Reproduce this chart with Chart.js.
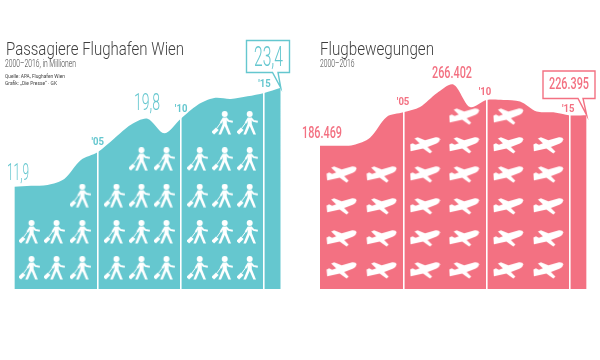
<!DOCTYPE html>
<html>
<head>
<meta charset="utf-8">
<script src="https://cdn.jsdelivr.net/npm/chart.js@4"></script>
<style>
html,body{margin:0;padding:0;background:#fff;}
canvas{position:absolute;top:0;}
#c1{left:0;}
#c2{left:300px;}
</style>
</head>
<body>
<canvas id="c1" width="300" height="360"></canvas>
<canvas id="c2" width="300" height="360"></canvas>
<script>
// ---- data ----
const years = [2000,2001,2002,2003,2004,2005,2006,2007,2008,2009,2010,2011,2012,2013,2014,2015,2016];
const passengers = [11.9,12.0,12.1,12.8,15.0,15.9,17.5,19.1,19.8,18.1,19.8,21.4,22.2,22.1,22.4,22.8,23.4];
const flights = [186469,186500,187500,197000,224000,230000,237000,255000,266402,237000,246000,246000,244000,231000,230000,226000,226395];
const tickYears = [2005,2010,2015];
const tickLabels = ["'05","'10","'15"];
const personCols = [2000.9,2002.4,2003.95,2006,2007.5,2009,2011,2012.5,2014];
const personCounts = [2,2,3,3,4,4,4,5,5];
const personRows = [2.44,6.63,10.85,15.1,19.3];
const planeCols = [2001.3,2003.7,2006.3,2008.65,2011.3,2013.7];
const planeCounts = [4,4,5,6,6,5];
const planeRows = [24700,66400,108000,149500,187500,225000];
const passengerLabels = ["11,9","19,8","23,4"];
const flightLabels = ["186.469","266.402","226.395"];

// ---- colours ----
const TEAL = '#65c7cf', PINK = '#f37182', GREY = '#3f3f3f';

function iconPoints(cols, counts, rows){
  const out = [];
  cols.forEach((x,i)=>{ for(let r=0;r<counts[i];r++) out.push({x, y:rows[r]}); });
  return out;
}
function seriesPoints(vals){ return years.map((x,i)=>({x, y:vals[i]})); }

// ---- pictograms ----
function personIcon(){
  const c = document.createElement('canvas'); c.width = 21; c.height = 24;
  const g = c.getContext('2d');
  g.fillStyle = g.strokeStyle = '#fff'; g.lineCap = 'butt'; g.lineJoin = 'miter';
  g.beginPath(); g.arc(12.7,3,3,0,Math.PI*2); g.fill();
  g.beginPath();
  g.moveTo(10.6,6.5); g.lineTo(14.8,6.5); g.lineTo(14.8,13); g.lineTo(19,23.5); g.lineTo(16.4,23.5);
  g.lineTo(12.7,15); g.lineTo(9,23.5); g.lineTo(6.4,23.5); g.lineTo(10.6,13); g.closePath(); g.fill();
  g.lineWidth = 1.9;
  g.beginPath(); g.moveTo(14,7.2); g.lineTo(16.5,10); g.lineTo(20.8,10.8); g.stroke();
  g.beginPath(); g.moveTo(11.2,7.5); g.lineTo(8.5,12); g.stroke();
  g.lineWidth = 1;
  g.beginPath(); g.moveTo(8.5,12); g.lineTo(4.5,17.5); g.stroke();
  g.save(); g.translate(3,20); g.rotate(Math.PI/4); g.fillRect(-1.9,-3.2,3.8,6.4); g.restore();
  return c;
}
function planeIcon(){
  const c = document.createElement('canvas'); c.width = 31; c.height = 18;
  const g = c.getContext('2d');
  g.fillStyle = '#fff';
  g.beginPath();
  g.moveTo(0.5,8.5); g.lineTo(3,7.2); g.lineTo(6,8.7); g.lineTo(10,7.2); g.lineTo(5,2.5); g.lineTo(8,1.2);
  g.lineTo(15.5,4.2); g.lineTo(26,1.3); g.quadraticCurveTo(30,1,30.5,3.2); g.quadraticCurveTo(30,5.8,27,7.5);
  g.lineTo(18,11); g.lineTo(22.5,15.5); g.lineTo(20.5,17.5); g.lineTo(13.5,12.5); g.lineTo(1,15.2); g.closePath();
  g.fill();
  return c;
}

// ---- text helper: draws text squeezed to a given width ----
function fitText(ctx, text, x, base, font, color, width){
  ctx.save();
  ctx.font = font; ctx.fillStyle = color; ctx.textAlign = 'left'; ctx.textBaseline = 'alphabetic';
  const w = ctx.measureText(text).width;
  ctx.translate(x, base); ctx.scale(width/w, 1);
  ctx.fillText(text, 0, 0);
  ctx.restore();
}
function callout(ctx, box, tail, tip, color){
  ctx.save();
  ctx.fillStyle = '#fff'; ctx.strokeStyle = color; ctx.lineWidth = 1.4; ctx.lineJoin = 'miter';
  ctx.beginPath();
  ctx.moveTo(box[0],box[1]); ctx.lineTo(box[2],box[1]); ctx.lineTo(box[2],box[3]);
  ctx.lineTo(tail[1],box[3]); ctx.lineTo(tip[0],tip[1]); ctx.lineTo(tail[0],box[3]);
  ctx.lineTo(box[0],box[3]); ctx.closePath();
  ctx.fill(); ctx.stroke();
  ctx.restore();
}

const leftOverlay = {
  id:'leftOverlay',
  afterDraw(chart){
    const c = chart.ctx, X = chart.scales.x, Y = chart.scales.y;
    fitText(c,'Passagiere Flughafen Wien',6,55,'300 19px "Roboto"',GREY,178);
    fitText(c,'2000–2016, in Millionen',5,67,'300 10px "Roboto"',GREY,71);
    fitText(c,'Quelle: APA, Flughafen Wien',5,78,'400 6px "Roboto"',GREY,60);
    fitText(c,'Grafik: „Die Presse“ · GK',5,84.5,'400 6px "Roboto"',GREY,52);
    const tip = [X.getPixelForValue(2016), Y.getPixelForValue(passengers[16])];
    callout(c,[246.5,40.5,289.5,72.5],[272.5,278],tip,TEAL);
    fitText(c,passengerLabels[0],7,180,'300 24px "Roboto"',TEAL,22);
    fitText(c,passengerLabels[1],134,110,'300 24px "Roboto"',TEAL,26);
    fitText(c,passengerLabels[2],254,66,'300 27px "Roboto"',TEAL,29);
    tickYears.forEach((yr,i)=>{
      const v = passengers[years.indexOf(yr)];
      const px = X.getPixelForValue(yr), py = Y.getPixelForValue(v);
      fitText(c,tickLabels[i],px-6,py-[7,7,6][i],'700 10px "Roboto"',TEAL,12.5);
    });
  }
};
const rightOverlay = {
  id:'rightOverlay',
  afterDraw(chart){
    const c = chart.ctx, X = chart.scales.x, Y = chart.scales.y;
    fitText(c,'Flugbewegungen',20,55,'300 19px "Roboto"',GREY,114);
    fitText(c,'2000–2016',20,67,'300 10px "Roboto"',GREY,34.5);
    const tip = [X.getPixelForValue(2016), Y.getPixelForValue(flights[16])];
    callout(c,[243,71,295,98.5],[278,283],tip,PINK);
    fitText(c,flightLabels[0],2,137.5,'500 16px "Roboto"',PINK,40);
    fitText(c,flightLabels[1],132,78,'500 16px "Roboto"',PINK,40);
    fitText(c,flightLabels[2],249,89,'500 16px "Roboto"',PINK,40);
    tickYears.forEach((yr,i)=>{
      const v = flights[years.indexOf(yr)];
      const px = X.getPixelForValue(yr), py = Y.getPixelForValue(v);
      fitText(c,tickLabels[i],px-[6.5,8,8][i],py-[7,5,3][i],'700 10px "Roboto"',PINK,12.5);
    });
  }
};

function makeChart(id, vals, color, yMax, pad, icon, iconData, overlay){
  return new Chart(document.getElementById(id), {
    type:'line',
    data:{ datasets:[
      { data:iconData, showLine:false, order:0, pointStyle:icon, pointRadius:10, pointHoverRadius:10 },
      { data:seriesPoints(vals), order:1, fill:'origin', backgroundColor:color, borderColor:color, borderWidth:0,
        pointRadius:0, tension:0.3 }
    ]},
    options:{
      responsive:false, animation:false, devicePixelRatio:1,
      layout:{ padding:pad },
      plugins:{ legend:{display:false}, tooltip:{enabled:false}, title:{display:false} },
      events:[],
      scales:{
        x:{ type:'linear', min:2000, max:2016,
            afterBuildTicks(a){ a.ticks = tickYears.map(value=>({value})); },
            ticks:{display:false}, border:{display:false},
            grid:{ color:'#ffffff', lineWidth:1.6, drawTicks:false, z:1 } },
        y:{ display:false, min:0, max:yMax }
      }
    },
    plugins:[overlay]
  });
}
makeChart('c1', passengers, TEAL, 30, {left:14.3,right:19.2,top:31,bottom:71},
  personIcon(), iconPoints(personCols,personCounts,personRows), leftOverlay);
makeChart('c2', flights, PINK, 350000, {left:20,right:13.3,top:20.2,bottom:71},
  planeIcon(), iconPoints(planeCols,planeCounts,planeRows), rightOverlay);
</script>
</body>
</html>
